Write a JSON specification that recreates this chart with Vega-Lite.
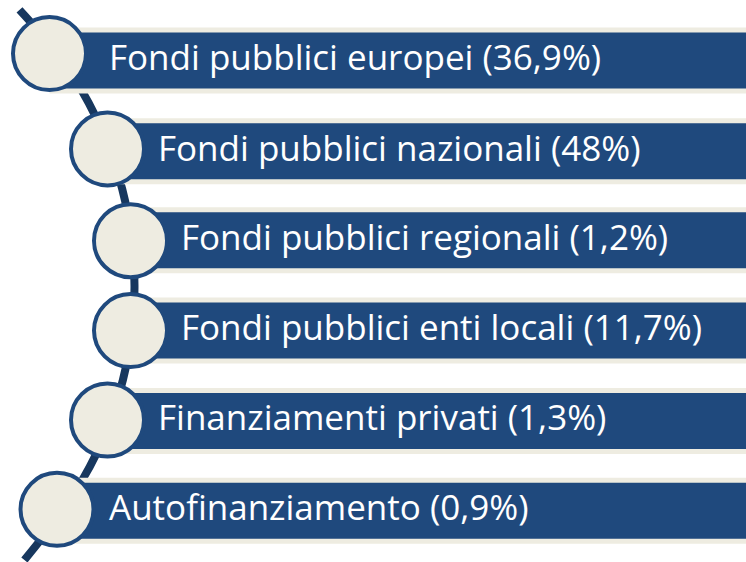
{
  "$schema": "https://vega.github.io/schema/vega-lite/v6.json",
  "width": 746,
  "height": 562,
  "autosize": {"type": "fit", "contains": "padding"},
  "padding": 0,
  "background": "white",
  "config": {"view": {"stroke": null}},
  "datasets": {
    "items": [
      {"label": "Fondi pubblici europei (36,9%)", "pct": 36.9, "yc": 56.5, "cx": 49.5, "cy": 49.5, "tx": 109},
      {"label": "Fondi pubblici nazionali (48%)", "pct": 48, "yc": 149, "cx": 107.5, "cy": 146.5, "tx": 158},
      {"label": "Fondi pubblici regionali (1,2%)", "pct": 1.2, "yc": 239.5, "cx": 130.5, "cy": 240, "tx": 181},
      {"label": "Fondi pubblici enti locali (11,7%)", "pct": 11.7, "yc": 331.5, "cx": 130.5, "cy": 331.5, "tx": 181},
      {"label": "Finanziamenti privati (1,3%)", "pct": 1.3, "yc": 423.5, "cx": 107.5, "cy": 422.5, "tx": 158},
      {"label": "Autofinanziamento (0,9%)", "pct": 0.9, "yc": 515, "cx": 57, "cy": 513.5, "tx": 109}
    ],
    "curve": [
      {"x": 19.5, "y": 5}, {"x": 57.7, "y": 50}, {"x": 88.8, "y": 100}, {"x": 110.7, "y": 150},
      {"x": 125.2, "y": 200}, {"x": 132.9, "y": 250}, {"x": 134.5, "y": 286}, {"x": 133.1, "y": 320},
      {"x": 125.6, "y": 370}, {"x": 111.4, "y": 420}, {"x": 89.8, "y": 470}, {"x": 59.1, "y": 520},
      {"x": 24.4, "y": 565}
    ]
  },
  "layer": [
    {
      "data": {"name": "curve"},
      "mark": {"type": "line", "color": "#17375E", "strokeWidth": 8, "interpolate": "natural", "clip": true},
      "encoding": {
        "x": {"field": "x", "type": "quantitative", "axis": null, "scale": {"domain": [0, 746], "nice": false, "zero": false}},
        "y": {"field": "y", "type": "quantitative", "axis": null, "scale": {"domain": [0, 562], "nice": false, "zero": false, "reverse": true}},
        "order": {"field": "y", "type": "quantitative"}
      }
    },
    {
      "data": {"name": "items"},
      "mark": {"type": "bar", "orient": "horizontal", "size": 66, "color": "#EEECE1"},
      "encoding": {
        "x": {"field": "cx", "type": "quantitative"},
        "x2": {"datum": 746},
        "y": {"field": "yc", "type": "quantitative"}
      }
    },
    {
      "data": {"name": "items"},
      "mark": {"type": "bar", "orient": "horizontal", "size": 56, "color": "#1F497D"},
      "encoding": {
        "x": {"field": "cx", "type": "quantitative"},
        "x2": {"datum": 746},
        "y": {"field": "yc", "type": "quantitative"}
      }
    },
    {
      "data": {"name": "items"},
      "mark": {"type": "point", "shape": "circle", "filled": false, "fill": "#EEECE1", "fillOpacity": 1, "stroke": "#1F497D", "strokeWidth": 4, "size": 5329, "opacity": 1},
      "encoding": {
        "x": {"field": "cx", "type": "quantitative"},
        "y": {"field": "cy", "type": "quantitative"}
      }
    },
    {
      "data": {"name": "items"},
      "mark": {"type": "text", "font": "Open Sans", "fontSize": 35, "color": "white", "align": "left", "baseline": "alphabetic", "dy": 9.5},
      "encoding": {
        "x": {"field": "tx", "type": "quantitative"},
        "y": {"field": "yc", "type": "quantitative"},
        "text": {"field": "label"}
      }
    }
  ]
}
